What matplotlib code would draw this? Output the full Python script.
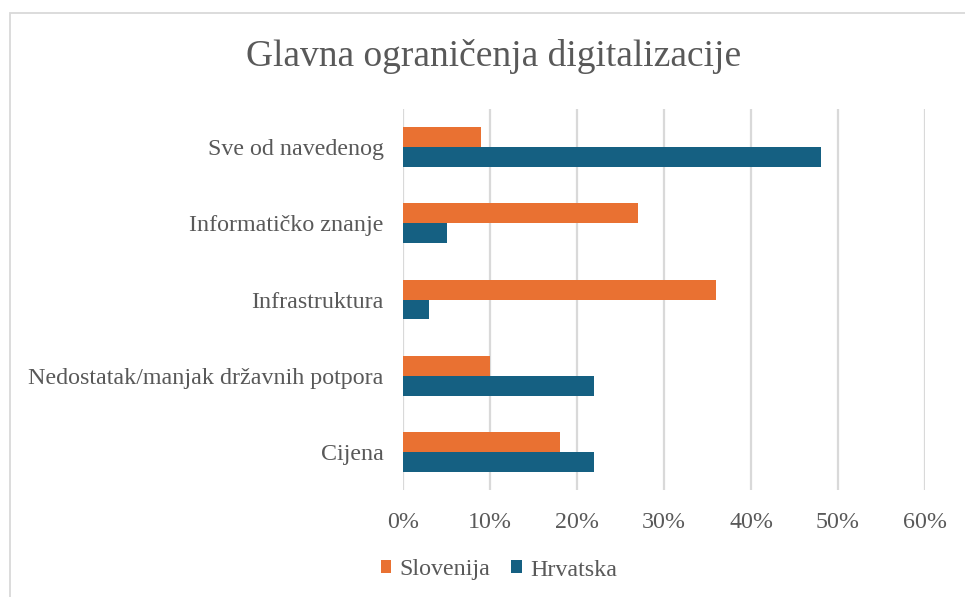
import matplotlib
matplotlib.use("Agg")
import matplotlib.pyplot as plt
from matplotlib.patches import Rectangle
from matplotlib.ticker import FuncFormatter
import numpy as np

categories = ["Cijena", "Nedostatak/manjak državnih potpora", "Infrastruktura",
              "Informatičko znanje", "Sve od navedenog"]
slovenija = [18, 10, 36, 27, 9]
hrvatska = [22, 22, 3, 5, 48]
x_ticks = [0, 10, 20, 30, 40, 50, 60]

ORANGE = "#E97132"
BLUE = "#156082"
TEXT = "#595959"
GRID = "#D9D9D9"

plt.rcParams["font.family"] = ["Liberation Serif", "DejaVu Serif"]

fig = plt.figure(figsize=(9.65, 5.97), dpi=100)
fig.patch.set_facecolor("white")

# chart frame
fig.patches.append(Rectangle((10 / 965, -0.05), 1.2, 1 - 12.5 / 597 + 0.05,
                             transform=fig.transFigure, fill=False,
                             edgecolor=GRID, linewidth=1.3))

ax = fig.add_axes([403 / 965, 1 - 490 / 597, (925 - 403) / 965, (490 - 109) / 597])
y = np.arange(len(categories))
h = 0.262
ax.barh(y + h / 2, slovenija, height=h, color=ORANGE, label="Slovenija", zorder=3)
ax.barh(y - h / 2, hrvatska, height=h, color=BLUE, label="Hrvatska", zorder=3)

ax.set_xlim(0, 60)
ax.set_ylim(-0.5, len(categories) - 0.5)
ax.set_xticks(x_ticks)
ax.xaxis.set_major_formatter(FuncFormatter(lambda v, p: f"{v:.0f}%"))
ax.set_yticks(y)
ax.set_yticklabels(categories)
ax.grid(axis="x", color=GRID, linewidth=1.6, zorder=0)
for s in ax.spines.values():
    s.set_visible(False)
ax.tick_params(axis="both", length=0, colors=TEXT, labelsize=17.3)
ax.tick_params(axis="x", pad=16)
ax.tick_params(axis="y", pad=14)

fig.text(494 / 965, 1 - 56 / 597, "Glavna ograničenja digitalizacije",
         ha="center", va="center", fontsize=27, color=TEXT)

leg = fig.legend(loc="center", bbox_to_anchor=(499 / 965, 1 - 570 / 597), ncol=2,
                 frameon=False, fontsize=17.3, handlelength=0.45, handleheight=0.45,
                 handletextpad=0.35, columnspacing=0.85, labelcolor=TEXT)

fig.savefig("out.png", dpi=100, facecolor="white")
